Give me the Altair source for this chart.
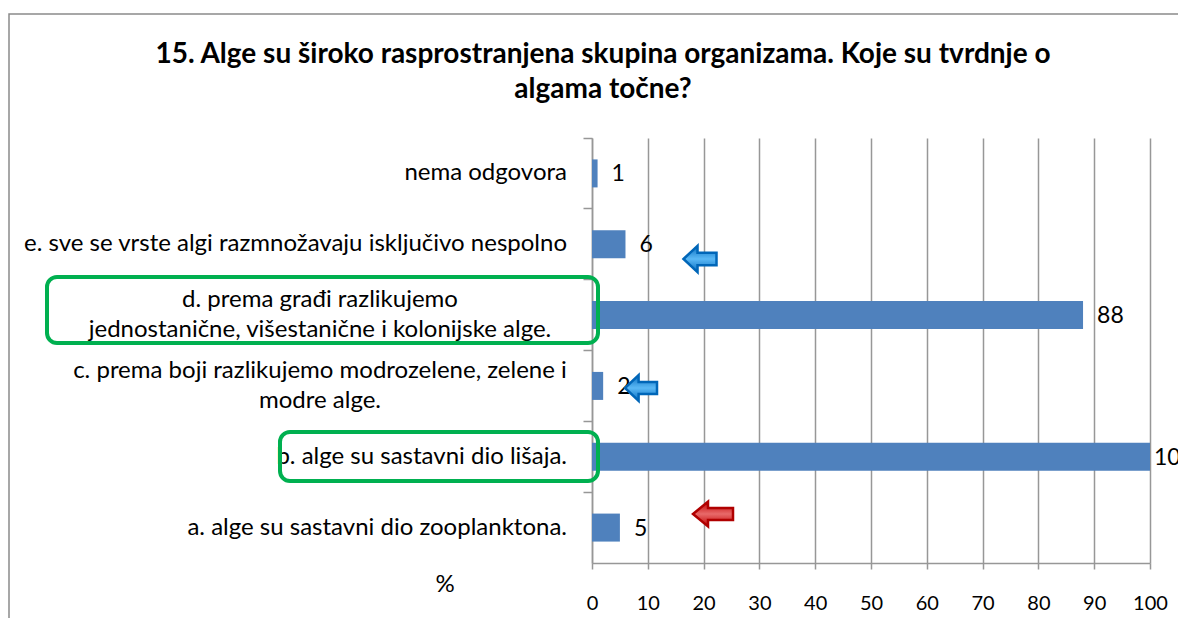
import altair as alt
import pandas as pd

# ---- data ----
categories = [
    "nema odgovora",
    "e. sve se vrste algi razmnožavaju isključivo nespolno",
    "d. prema građi razlikujemo jednostanične, višestanične i kolonijske alge.",
    "c. prema boji razlikujemo modrozelene, zelene i modre alge.",
    "b. alge su sastavni dio lišaja.",
    "a. alge su sastavni dio zooplanktona.",
]
values = [1, 6, 88, 2, 100, 5]
label_lines = [
    ["nema odgovora"],
    ["e. sve se vrste algi razmnožavaju isključivo nespolno"],
    ["d. prema građi razlikujemo", "jednostanične, višestanične i kolonijske alge."],
    ["c. prema boji razlikujemo modrozelene, zelene i", "modre alge."],
    ["b. alge su sastavni dio lišaja."],
    ["a. alge su sastavni dio zooplanktona."],
]
x_ticks = [0, 10, 20, 30, 40, 50, 60, 70, 80, 90, 100]
title_lines = ["15. Alge su široko rasprostranjena skupina organizama. Koje su tvrdnje o",
               "algama točne?"]

df = pd.DataFrame({"cat": categories, "val": values})
single = pd.DataFrame({"cat": [c for c, l in zip(categories, label_lines) if len(l) == 1],
                       "txt": [l[0] for l in label_lines if len(l) == 1]})
multi = pd.DataFrame({"cat": [c for c, l in zip(categories, label_lines) if len(l) > 1],
                      "txt": [l for l in label_lines if len(l) > 1]})

FONT = "Lato"
GRID = "#979797"
LABEL_SIZE = 24

y_enc = alt.Y("cat:N", sort=categories,
              scale=alt.Scale(paddingInner=0, paddingOuter=0),
              axis=alt.Axis(labels=False, title=None, grid=False, bandPosition=0,
                            tickSize=9, tickColor=GRID, domainColor=GRID,
                            tickWidth=1.5, domainWidth=1.5))
x_enc = alt.X("val:Q", scale=alt.Scale(domain=[0, 100], nice=False),
              axis=alt.Axis(values=x_ticks, title=None, grid=True, gridColor=GRID,
                            gridWidth=1.5, tickColor=GRID, tickWidth=1.5, tickSize=6,
                            domainColor=GRID, domainWidth=1.5, labelFont=FONT,
                            labelFontSize=20, labelColor="black", labelPadding=24,
                            labelFlush=False))

base = alt.Chart(df)

bars = base.mark_bar(size=28, color="#4f81bd").encode(x=x_enc, y=y_enc)
vals = base.transform_filter("datum.val < 100").mark_text(
    align="left", baseline="middle", dx=14, dy=1, font=FONT,
    fontSize=23, color="black").encode(
    x="val:Q", y=alt.Y("cat:N", sort=categories), text="val:Q")
vals_full = base.transform_filter("datum.val >= 100").mark_text(
    align="left", baseline="middle", dx=4, dy=1, font=FONT,
    fontSize=23, color="black").encode(
    x="val:Q", y=alt.Y("cat:N", sort=categories), text="val:Q")

lab1 = alt.Chart(single).mark_text(align="right", baseline="middle", font=FONT,
                                   fontSize=LABEL_SIZE, color="black").encode(
    x=alt.value(-25), y=alt.Y("cat:N", sort=categories), text="txt:N")
lab2 = alt.Chart(multi).mark_text(align="center", baseline="middle", font=FONT,
                                  fontSize=LABEL_SIZE, color="black", lineHeight=30,
                                  dy=-15).encode(
    x=alt.value(-272), y=alt.Y("cat:N", sort=categories), text="txt")

one = alt.Data(values=[{"k": 1}])

border = alt.Chart(one).mark_rect(fill="white", fillOpacity=0, stroke="#8a8a8a",
                                  strokeWidth=1.5).encode(
    x=alt.value(-583), x2=alt.value(640), y=alt.value(-124), y2=alt.value(560))

title = alt.Chart(alt.Data(values=[{"t": title_lines}])).mark_text(
    align="center", baseline="alphabetic", font=FONT, fontSize=28, fontWeight="bold",
    color="black", lineHeight=35).encode(x=alt.value(11), y=alt.value(-75), text="t:N")

pct = alt.Chart(one).mark_text(align="center", baseline="middle", font=FONT,
                               fontSize=24, color="black").encode(
    x=alt.value(-147), y=alt.value(447), text=alt.value("%"))

box_d = alt.Chart(one).mark_rect(fill="white", fillOpacity=0, stroke="#00b050",
                                 strokeWidth=4, cornerRadius=10).encode(
    x=alt.value(-545), x2=alt.value(6), y=alt.value(139), y2=alt.value(205))
box_b = alt.Chart(one).mark_rect(fill="white", fillOpacity=0, stroke="#00b050",
                                 strokeWidth=4, cornerRadius=10).encode(
    x=alt.value(-312), x2=alt.value(6), y=alt.value(294), y2=alt.value(343))

blue_shape = "M -1 0 L -0.15 -0.8 L -0.15 -0.38 L 1 -0.38 L 1 0.38 L -0.15 0.38 L -0.15 0.8 Z"
red_shape = "M -1 0 L -0.25 -0.62 L -0.25 -0.3 L 1 -0.3 L 1 0.3 L -0.25 0.3 L -0.25 0.62 Z"

blue_grad = {"gradient": "linear", "x1": 0, "y1": 0, "x2": 0, "y2": 1,
             "stops": [{"offset": 0, "color": "#0a6fc2"}, {"offset": 0.5, "color": "#5ab8f5"},
                       {"offset": 1, "color": "#0a6fc2"}]}
red_grad = {"gradient": "linear", "x1": 0, "y1": 0, "x2": 0, "y2": 1,
            "stops": [{"offset": 0, "color": "#c00000"}, {"offset": 0.5, "color": "#e86a6a"},
                      {"offset": 1, "color": "#c00000"}]}

arrow_e = alt.Chart(one).mark_point(shape=blue_shape, size=1089, filled=True, fill=blue_grad,
                                    stroke="#0066b8", strokeWidth=2.5, opacity=1).encode(
    x=alt.value(108), y=alt.value(121))
arrow_c = alt.Chart(one).mark_point(shape=blue_shape, size=1024, filled=True, fill=blue_grad,
                                    stroke="#0066b8", strokeWidth=2.5, opacity=1).encode(
    x=alt.value(49), y=alt.value(250))
arrow_a = alt.Chart(one).mark_point(shape=red_shape, size=1600, filled=True, fill=red_grad,
                                    stroke="#b00000", strokeWidth=2.5, opacity=1).encode(
    x=alt.value(121), y=alt.value(376))

chart = alt.layer(border, bars, vals, vals_full, lab1, lab2, title, pct, box_d, box_b,
                  arrow_e, arrow_c, arrow_a).properties(
    width=558, height=425,
    padding={"left": 584, "top": 130, "right": 28, "bottom": 55},
    autosize=alt.AutoSizeParams(type="none"),
    background="white",
).configure_view(stroke=None)

chart.save("out.html", embed_options={"renderer": "svg", "actions": False})
